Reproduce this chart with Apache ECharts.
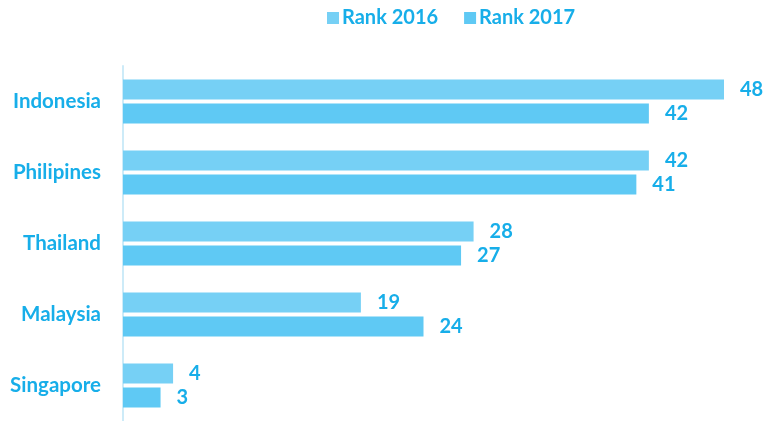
<!DOCTYPE html>
<html>
<head>
<meta charset="utf-8">
<script src="https://cdn.jsdelivr.net/npm/echarts@6/dist/echarts.min.js"></script>
<style>
  html, body { margin: 0; padding: 0; background: #fff; }
  #chart { width: 764px; height: 421px; }
</style>
</head>
<body>
<div id="chart"></div>
<script>
// data
const countries = ['Indonesia', 'Philipines', 'Thailand', 'Malaysia', 'Singapore'];
const rank2016 = [48, 42, 28, 19, 4];
const rank2017 = [42, 41, 27, 24, 3];

const textColor = '#17aee9';
const font = 'Lato';

const labelStyle = {
    show: true,
    position: 'right',
    distance: 16,
    color: textColor,
    fontFamily: font,
    fontSize: 20,
    fontWeight: 'bold'
};

const myChart = echarts.init(document.getElementById('chart'));
myChart.setOption({
    animation: false,
    legend: {
        top: 3,
        left: 322,
        itemWidth: 12,
        itemHeight: 12,
        itemGap: 26,
        icon: 'rect',
        textStyle: { color: textColor, fontFamily: font, fontSize: 20, fontWeight: 'bold', padding: [0, 0, 0, -2] }
    },
    grid: { left: 123, right: 40, top: 66, height: 356 },
    xAxis: {
        type: 'value',
        min: 0,
        max: 48,
        show: false
    },
    yAxis: {
        type: 'category',
        data: countries,
        inverse: true,
        axisTick: { show: false },
        axisLine: { show: true, lineStyle: { color: '#cdebf8', width: 2 } },
        axisLabel: { color: textColor, fontFamily: font, fontSize: 20.5, fontWeight: 'bold', margin: 22 }
    },
    series: [
        {
            name: 'Rank 2016',
            type: 'bar',
            data: rank2016,
            barWidth: 20,
            barGap: '20%',
            itemStyle: { color: '#76d0f5' },
            label: labelStyle
        },
        {
            name: 'Rank 2017',
            type: 'bar',
            data: rank2017,
            barWidth: 20,
            barGap: '20%',
            itemStyle: { color: '#5fc9f4' },
            label: labelStyle
        }
    ]
});
</script>
</body>
</html>
